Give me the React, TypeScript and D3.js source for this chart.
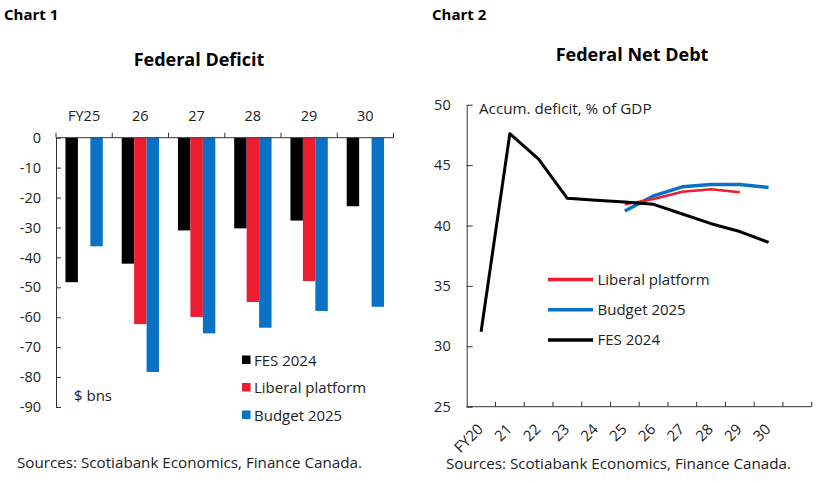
import { useEffect, useRef } from 'react'
import * as d3 from 'd3'

// Chart 1: federal deficit, $ bns
const deficitYears = ['FY25', '26', '27', '28', '29', '30']
const fesDeficit = [-48.3, -42.1, -31.0, -30.3, -27.7, -22.9]
const liberalDeficit: (number | null)[] = [null, -62.3, -59.9, -54.9, -47.9, null]
const budgetDeficit = [-36.3, -78.3, -65.4, -63.5, -57.9, -56.5]
const deficitTicks = [0, -10, -20, -30, -40, -50, -60, -70, -80, -90]

// Chart 2: federal net debt, % of GDP
const debtYears = ['FY20', '21', '22', '23', '24', '25', '26', '27', '28', '29', '30']
const fesDebt = [31.2, 47.6, 45.5, 42.25, 42.1, 41.95, 41.75, 40.95, 40.15, 39.5, 38.6]
const liberalDebt: (number | null)[] = [null, null, null, null, null, 41.75, 42.2, 42.8, 43.0, 42.75, null]
const budgetDebt: (number | null)[] = [null, null, null, null, null, 41.2, 42.45, 43.2, 43.4, 43.4, 43.15]
const debtTicks = [25, 30, 35, 40, 45, 50]

const BLACK = '#000000'
const RED = '#ed1c2e'
const BLUE = '#0a72c4'
const FONT = '"Open Sans", sans-serif'
const TEXT = '#222'

export default function App() {
  const svgRef = useRef<SVGSVGElement>(null)

  useEffect(() => {
    if (!svgRef.current) return
    const svg = d3.select(svgRef.current)
    svg.selectAll('*').remove()
    svg.style('font-family', FONT)

    // titles
    svg.append('text').attr('x', 4).attr('y', 20)
      .style('font-size', '15px').style('font-weight', 'bold').text('Chart 1')
    svg.append('text').attr('x', 432).attr('y', 20)
      .style('font-size', '15px').style('font-weight', 'bold').text('Chart 2')
    svg.append('text').attr('x', 199).attr('y', 66).attr('text-anchor', 'middle')
      .style('font-size', '18px').style('font-weight', 'bold').text('Federal Deficit')
    svg.append('text').attr('x', 632).attr('y', 61).attr('text-anchor', 'middle')
      .style('font-size', '18px').style('font-weight', 'bold').text('Federal Net Debt')

    // ---------- chart 1 ----------
    const x1 = d3.scaleBand().domain(deficitYears).range([56, 393.5])
    const series1 = ['fes', 'liberal', 'budget']
    const sub = d3.scaleBand().domain(series1).range([0, x1.bandwidth()]).paddingOuter(0.76)
    const y1 = d3.scaleLinear().domain([-90, 0]).range([407, 137.7])

    const c1 = svg.append('g')
    const barSets = [
      { key: 'fes', values: fesDeficit, color: BLACK },
      { key: 'liberal', values: liberalDeficit, color: RED },
      { key: 'budget', values: budgetDeficit, color: BLUE }
    ]
    barSets.forEach(s => {
      c1.selectAll(null)
        .data(s.values.map((v, i) => ({ v, cat: deficitYears[i] })).filter(d => d.v !== null))
        .enter().append('rect')
        .attr('x', d => (x1(d.cat) || 0) + (sub(s.key) || 0))
        .attr('y', y1(0))
        .attr('width', sub.bandwidth())
        .attr('height', d => y1(d.v as number) - y1(0))
        .attr('fill', s.color)
    })

    // y axis, ticks pointing inward
    const yAx1 = c1.append('g').attr('transform', `translate(${x1.range()[0]},0)`)
      .call(d3.axisLeft(y1).tickValues(deficitTicks).tickFormat(d => String(d))
        .tickSizeInner(-5).tickSizeOuter(0).tickPadding(15))
    yAx1.selectAll('text').style('font-size', '14.5px').style('fill', TEXT).style('font-family', FONT)
    yAx1.selectAll('line, path').attr('stroke', '#333')

    // zero line on top with category labels above it
    c1.append('line')
      .attr('x1', x1.range()[0]).attr('x2', x1.range()[1])
      .attr('y1', y1(0)).attr('y2', y1(0)).attr('stroke', '#333')
    const bounds1 = [...deficitYears.map(d => x1(d) || 0), x1.range()[1]]
    c1.selectAll(null).data(bounds1).enter().append('line')
      .attr('x1', d => d).attr('x2', d => d)
      .attr('y1', y1(0) - 5).attr('y2', y1(0)).attr('stroke', '#333')
    c1.selectAll(null).data(deficitYears).enter().append('text')
      .attr('x', d => (x1(d) || 0) + x1.bandwidth() / 2)
      .attr('y', y1(0) - 17)
      .attr('text-anchor', 'middle')
      .style('font-size', '14.5px').style('fill', TEXT)
      .text(d => d)

    c1.append('text').attr('x', 74).attr('y', 401)
      .style('font-size', '15px').style('fill', TEXT).text('$ bns')

    const leg1 = [
      { label: 'FES 2024', color: BLACK },
      { label: 'Liberal platform', color: RED },
      { label: 'Budget 2025', color: BLUE }
    ]
    leg1.forEach((item, i) => {
      const g = c1.append('g').attr('transform', `translate(242,${360 + i * 27.5})`)
      g.append('rect').attr('x', 0).attr('y', -4.5).attr('width', 8.5).attr('height', 8.5).attr('fill', item.color)
      g.append('text').attr('x', 12).attr('y', 5.5)
        .style('font-size', '15px').style('fill', TEXT).text(item.label)
    })

    svg.append('text').attr('x', 17).attr('y', 468)
      .style('font-size', '15.2px').style('fill', TEXT)
      .text('Sources: Scotiabank Economics, Finance Canada.')

    // ---------- chart 2 ----------
    // one spare slot after FY30, as in the original axis
    const x2 = d3.scaleBand().domain([...debtYears, '']).range([466.7, 811.7])
    const y2 = d3.scaleLinear().domain([25, 50]).range([406.7, 104.7])
    const c2 = svg.append('g')

    const yAx2 = c2.append('g').attr('transform', `translate(${x2.range()[0]},0)`)
      .call(d3.axisLeft(y2).tickValues(debtTicks).tickSizeInner(-6).tickSizeOuter(0).tickPadding(16))
    yAx2.selectAll('text').style('font-size', '14.5px').style('fill', TEXT).style('font-family', FONT)
    yAx2.selectAll('line, path').attr('stroke', '#333')

    c2.append('line')
      .attr('x1', x2.range()[0]).attr('x2', x2.range()[1])
      .attr('y1', y2(25)).attr('y2', y2(25)).attr('stroke', '#333')
    const bounds2 = [...x2.domain().slice(1).map(d => x2(d) || 0), x2.range()[1]]
    c2.selectAll(null).data(bounds2).enter().append('line')
      .attr('x1', d => d).attr('x2', d => d)
      .attr('y1', y2(25) - 5).attr('y2', y2(25)).attr('stroke', '#333')
    c2.selectAll(null).data(debtYears).enter().append('text')
      .attr('transform', d => `translate(${(x2(d) || 0) + x2.bandwidth() / 2 + 3},${y2(25) + 23.5}) rotate(-45)`)
      .attr('text-anchor', 'end')
      .style('font-size', '15px').style('fill', TEXT)
      .text(d => d)

    const line = d3.line<number | null>()
      .defined(d => d !== null)
      .x((_, i) => (x2(debtYears[i]) || 0) + x2.bandwidth() / 2)
      .y(d => y2(d as number))

    const lines = [
      { values: budgetDebt, color: BLUE, w: 3.5 },
      { values: liberalDebt, color: RED, w: 2.5 },
      { values: fesDebt as (number | null)[], color: BLACK, w: 3 }
    ]
    lines.forEach(l => {
      c2.append('path').datum(l.values)
        .attr('d', line)
        .attr('fill', 'none')
        .attr('stroke', l.color)
        .attr('stroke-width', l.w)
        .attr('stroke-linejoin', 'round')
    })

    c2.append('text').attr('x', 479).attr('y', 113.5)
      .style('font-size', '15.2px').style('fill', TEXT).text('Accum. deficit, % of GDP')

    const leg2 = [
      { label: 'Liberal platform', color: RED },
      { label: 'Budget 2025', color: BLUE },
      { label: 'FES 2024', color: BLACK }
    ]
    leg2.forEach((item, i) => {
      const g = c2.append('g').attr('transform', `translate(548,${279.5 + i * 30.2})`)
      g.append('line').attr('x1', 0).attr('x2', 45).attr('y1', 0).attr('y2', 0)
        .attr('stroke', item.color).attr('stroke-width', 3.5)
      g.append('text').attr('x', 49.5).attr('y', 5.5)
        .style('font-size', '15px').style('fill', TEXT).text(item.label)
    })

    svg.append('text').attr('x', 446).attr('y', 469)
      .style('font-size', '15.2px').style('fill', TEXT)
      .text('Sources: Scotiabank Economics, Finance Canada.')
  }, [])

  return (
    <svg
      ref={svgRef}
      width={828}
      height={483}
      style={{ position: 'absolute', left: 0, top: 0, background: '#fff' }}
    />
  )
}
